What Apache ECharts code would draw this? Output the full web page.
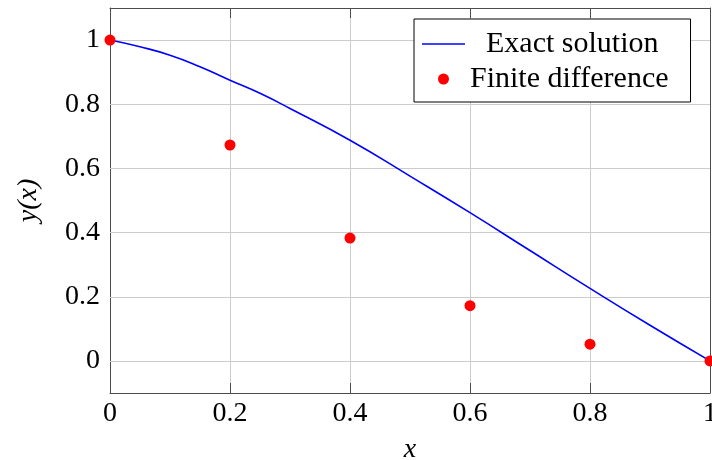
<!DOCTYPE html>
<html>
<head>
<meta charset="utf-8">
<script src="https://cdn.jsdelivr.net/npm/echarts@6/dist/echarts.min.js"></script>
<style>
  html, body { margin: 0; padding: 0; background: #fff; }
  #chart { width: 712px; height: 460px; }
</style>
</head>
<body>
<div id="chart"></div>
<script>
// values
let exactX = [0, 0.05, 0.1, 0.15, 0.2, 0.25, 0.3, 0.4, 0.5, 0.6, 0.7, 0.8, 0.9, 1];
let exactY = [1, 0.979, 0.953, 0.917, 0.875, 0.834, 0.787, 0.688, 0.576, 0.462, 0.344, 0.226, 0.111, 0];
let fdX = [0, 0.2, 0.4, 0.6, 0.8, 1];
let fdY = [1, 0.673, 0.383, 0.172, 0.052, 0];
let yTicks = [0, 0.2, 0.4, 0.6, 0.8, 1];

const FONT = "Liberation Serif";
const frame = "#4d4d4d";
const gridColor = "#cccccc";

let exactData = exactX.map((x, i) => [x, exactY[i]]);
let fdData = fdX.map((x, i) => [x, fdY[i]]);

function fmt(v) {
  return String(Math.round(v * 10) / 10);
}

let option = {
  animation: false,
  backgroundColor: "#fff",
  grid: { left: 110, right: 2, top: 8, bottom: 67, containLabel: false, outerBoundsMode: "none" },
  legend: {
    orient: "vertical",
    left: 414,
    top: 19,
    itemGap: 5,
    itemWidth: 43,
    itemHeight: 11,
    padding: [10, 22, 8, 8],
    borderColor: "#000",
    borderWidth: 1,
    backgroundColor: "#fff",
    textStyle: { fontFamily: FONT, fontSize: 30, color: "#000" },
    data: [
      {
        name: "Exact solution",
        icon: "path://M0,0H43V1.6H0Z",
        itemStyle: { color: "#0000ff" },
        textStyle: { padding: [0, 0, 0, 16] },
      },
      { name: "Finite difference", icon: "circle", itemStyle: { color: "#ff0000", opacity: 1 } },
    ],
  },
  xAxis: [
    {
      type: "value",
      min: 0,
      max: 1,
      interval: 0.2,
      name: "x",
      nameLocation: "middle",
      nameGap: 43,
      nameTextStyle: { fontFamily: FONT, fontSize: 28, fontStyle: "italic", color: "#000" },
      axisLine: { show: true, onZero: false, lineStyle: { color: frame, width: 1 } },
      axisTick: { inside: true, length: 10, lineStyle: { color: frame } },
      axisLabel: {
        fontFamily: FONT, fontSize: 28, color: "#000", margin: 7,
        formatter: fmt,
      },
      splitLine: { show: true, lineStyle: { color: gridColor, width: 1 } },
    },
    {
      type: "value",
      position: "top",
      min: 0,
      max: 1,
      interval: 0.2,
      axisLine: { show: true, onZero: false, lineStyle: { color: frame, width: 1 } },
      axisTick: { inside: true, length: 10, lineStyle: { color: frame } },
      axisLabel: { show: false },
      splitLine: { show: false },
    },
  ],
  yAxis: [
    {
      type: "value",
      min: -0.1,
      max: 1.1,
      name: "y(x)",
      nameLocation: "middle",
      nameGap: 67,
      nameRotate: 90,
      nameTextStyle: { fontFamily: FONT, fontSize: 28, fontStyle: "italic", color: "#000" },
      axisLine: { show: true, onZero: false, lineStyle: { color: frame, width: 1 } },
      axisTick: { inside: true, length: 10, customValues: yTicks, lineStyle: { color: frame } },
      axisLabel: {
        fontFamily: FONT, fontSize: 28, color: "#000", margin: 10,
        customValues: yTicks,
        formatter: fmt,
      },
      splitLine: { show: false },
    },
    {
      type: "value",
      position: "right",
      min: -0.1,
      max: 1.1,
      axisLine: { show: true, onZero: false, lineStyle: { color: frame, width: 1 } },
      axisTick: { inside: true, length: 10, customValues: yTicks, lineStyle: { color: frame } },
      axisLabel: { show: false, customValues: yTicks },
      splitLine: { show: false },
    },
  ],
  series: [
    {
      name: "Exact solution",
      type: "line",
      data: exactData,
      smooth: true,
      symbol: "none",
      lineStyle: { color: "#0000ff", width: 1.6 },
      itemStyle: { color: "#0000ff" },
      z: 3,
      // horizontal grid lines at the y tick values
      markLine: {
        silent: true,
        symbol: "none",
        label: { show: false },
        lineStyle: { color: gridColor, width: 1, type: "solid" },
        data: yTicks.map((v) => ({ yAxis: v })),
        z: 1,
      },
    },
    {
      name: "Finite difference",
      type: "scatter",
      data: fdData,
      symbol: "circle",
      symbolSize: 11,
      itemStyle: { color: "#ff0000", opacity: 1 },
      clip: false,
      z: 4,
    },
  ],
};

let myChart = echarts.init(document.getElementById("chart"), null, { renderer: "canvas" });
myChart.setOption(option);
</script>
</body>
</html>
